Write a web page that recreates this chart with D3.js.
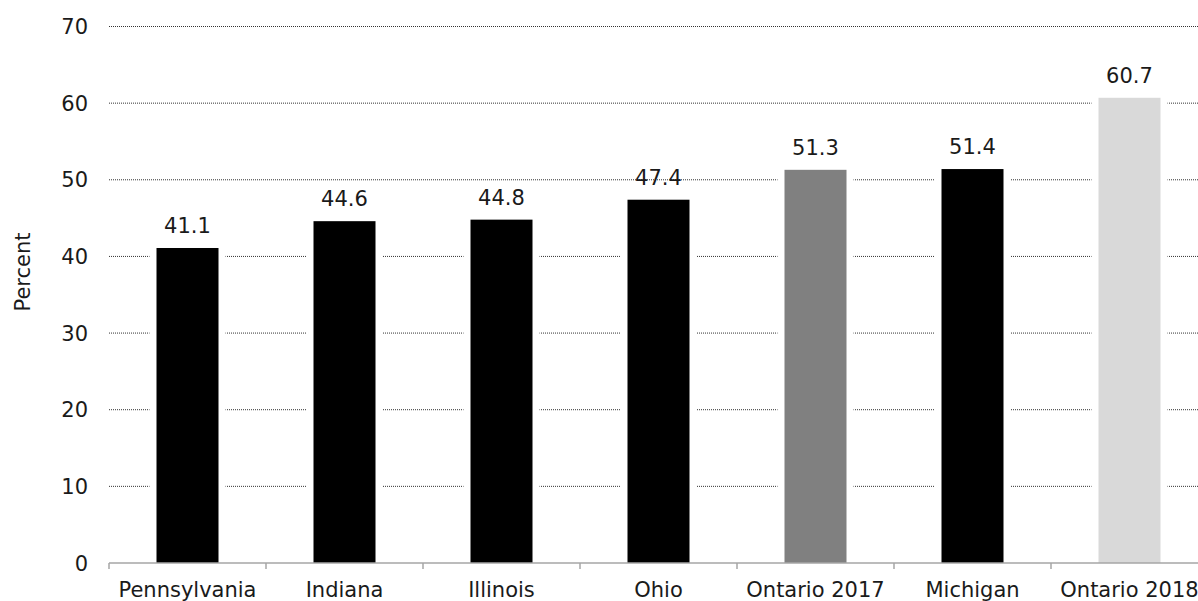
<!DOCTYPE html>
<html><head><meta charset="utf-8">
<script src="https://cdn.jsdelivr.net/npm/d3@7"></script>
<style>body{margin:0;background:#fff}svg{display:block}text{font-family:"DejaVu Sans",sans-serif;fill:#1a1a1a}</style>
</head><body>
<svg id="c" width="1198" height="601"></svg>
<script>
const categories = ["Pennsylvania","Indiana","Illinois","Ohio","Ontario 2017","Michigan","Ontario 2018"];
const values = [41.1,44.6,44.8,47.4,51.3,51.4,60.7];
const colors = ["#000000","#000000","#000000","#000000","#808080","#000000","#d9d9d9"];
const yTicks = [0,10,20,30,40,50,60,70];

const svg = d3.select("#c");
const x = d3.scaleBand().domain(categories).range([109,1208]).paddingInner(0).paddingOuter(0);
const y = d3.scaleLinear().domain([0,70]).range([563,26.5]);
const barW = 62;

// grid
svg.append("g").selectAll("line").data(yTicks.filter(d=>d>0)).join("line")
  .attr("x1",109).attr("x2",1198).attr("y1",d=>y(d)).attr("y2",d=>y(d))
  .attr("stroke","#333").attr("stroke-width",1).attr("stroke-dasharray","1,1");

// white masks around bars
svg.append("g").selectAll("rect").data(values).join("rect")
  .attr("x",(d,i)=>x(categories[i])+x.bandwidth()/2-barW/2-7).attr("width",barW+14)
  .attr("y",d=>y(d)-2).attr("height",d=>y(0)-y(d)+1).attr("fill","#fff");

// bars
svg.append("g").selectAll("rect").data(values).join("rect")
  .attr("x",(d,i)=>x(categories[i])+x.bandwidth()/2-barW/2).attr("width",barW)
  .attr("y",d=>y(d)).attr("height",d=>y(0)-y(d)).attr("fill",(d,i)=>colors[i]);

// value labels
svg.append("g").selectAll("text").data(values).join("text")
  .attr("x",(d,i)=>x(categories[i])+x.bandwidth()/2).attr("y",d=>y(d)-15)
  .attr("text-anchor","middle").attr("font-size",21).text(d=>d.toFixed(1));

// x axis
const xa = svg.append("g").attr("transform","translate(0,563)");
xa.append("line").attr("x1",109).attr("x2",1198).attr("stroke","#a6a6a6").attr("stroke-width",1.5);
xa.selectAll("line.t").data(d3.range(categories.length+1)).join("line").attr("class","t")
  .attr("x1",i=>109+i*x.bandwidth()).attr("x2",i=>109+i*x.bandwidth())
  .attr("y1",0).attr("y2",6).attr("stroke","#a6a6a6").attr("stroke-width",1.5);
xa.selectAll("text").data(categories).join("text")
  .attr("x",d=>x(d)+x.bandwidth()/2).attr("y",34).attr("text-anchor","middle")
  .attr("font-size",21).text(d=>d);

// y labels
svg.append("g").selectAll("text").data(yTicks).join("text")
  .attr("x",88).attr("y",d=>y(d)+7.5).attr("text-anchor","end").attr("font-size",21).text(d=>d);

svg.append("text").attr("transform","translate(29.5,272) rotate(-90)")
  .attr("text-anchor","middle").attr("font-size",21).text("Percent");
</script>
</body></html>
